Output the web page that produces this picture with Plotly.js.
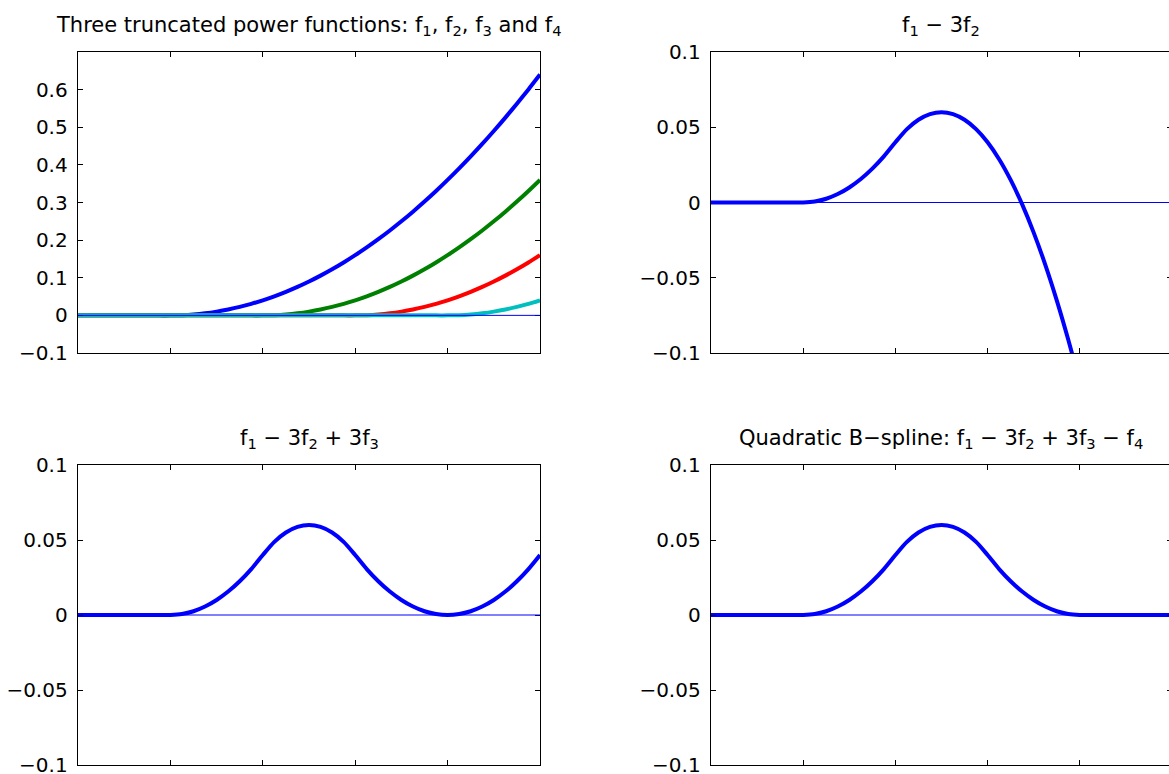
<!DOCTYPE html>
<html>
<head>
<meta charset="utf-8">
<script src="https://cdn.plot.ly/plotly-3.0.1.min.js"></script>
<style>
html, body { margin: 0; padding: 0; overflow: hidden; background: #fff; }
#chart { width: 1180px; height: 774px; }
</style>
</head>
<body>
<div id="chart"></div>
<script>
// Sample points along x
const xs = [0, 0.125, 0.25, 0.375, 0.5, 0.625, 0.75, 0.875, 1, 1.125, 1.25, 1.375, 1.5, 1.625, 1.75, 1.875,
            2, 2.125, 2.25, 2.375, 2.5, 2.625, 2.75, 2.875, 3, 3.125, 3.25, 3.375, 3.5, 3.625, 3.75, 3.875,
            4, 4.125, 4.25, 4.375, 4.5, 4.625, 4.75, 4.875, 5];
// Truncated power functions
const f1 = [0, 0, 0, 0, 0, 0, 0, 0, 0,
            0.000625, 0.0025, 0.005625, 0.01, 0.015625, 0.0225, 0.030625, 0.04,
            0.050625, 0.0625, 0.075625, 0.09, 0.105625, 0.1225, 0.140625, 0.16,
            0.180625, 0.2025, 0.225625, 0.25, 0.275625, 0.3025, 0.330625, 0.36,
            0.390625, 0.4225, 0.455625, 0.49, 0.525625, 0.5625, 0.600625, 0.64];
const f2 = [0, 0, 0, 0, 0, 0, 0, 0, 0, 0, 0, 0, 0, 0, 0, 0, 0,
            0.000625, 0.0025, 0.005625, 0.01, 0.015625, 0.0225, 0.030625, 0.04,
            0.050625, 0.0625, 0.075625, 0.09, 0.105625, 0.1225, 0.140625, 0.16,
            0.180625, 0.2025, 0.225625, 0.25, 0.275625, 0.3025, 0.330625, 0.36];
const f3 = [0, 0, 0, 0, 0, 0, 0, 0, 0, 0, 0, 0, 0, 0, 0, 0, 0, 0, 0, 0, 0, 0, 0, 0, 0,
            0.000625, 0.0025, 0.005625, 0.01, 0.015625, 0.0225, 0.030625, 0.04,
            0.050625, 0.0625, 0.075625, 0.09, 0.105625, 0.1225, 0.140625, 0.16];
const f4 = [0, 0, 0, 0, 0, 0, 0, 0, 0, 0, 0, 0, 0, 0, 0, 0, 0, 0, 0, 0, 0, 0, 0, 0, 0, 0, 0, 0, 0, 0, 0, 0, 0,
            0.000625, 0.0025, 0.005625, 0.01, 0.015625, 0.0225, 0.030625, 0.04];

const xTicks = [0, 1, 2, 3, 4, 5];
const yTicksTop = [-0.1, 0, 0.1, 0.2, 0.3, 0.4, 0.5, 0.6];
const yTicksTopText = ['\u22120.1', '0', '0.1', '0.2', '0.3', '0.4', '0.5', '0.6'];
const yTicksSmall = [-0.1, -0.05, 0, 0.05, 0.1];
const yTicksSmallText = ['\u22120.1', '\u22120.05', '0', '0.05', '0.1'];

const titles = [
  'Three truncated power functions: f<sub>1</sub>, f<sub>2</sub>, f<sub>3</sub> and f<sub>4</sub>',
  'f<sub>1</sub> \u2212 3f<sub>2</sub>',
  'f<sub>1</sub> \u2212 3f<sub>2</sub> + 3f<sub>3</sub>',
  'Quadratic B\u2212spline: f<sub>1</sub> \u2212 3f<sub>2</sub> + 3f<sub>3</sub> \u2212 f<sub>4</sub>'
];

// Combinations named in the panel titles
const g2 = f1.map((v, i) => v - 3 * f2[i]);
const g3 = f1.map((v, i) => v - 3 * f2[i] + 3 * f3[i]);
const g4 = f1.map((v, i) => v - 3 * f2[i] + 3 * f3[i] - f4[i]);

const BLUE = '#0000ff', GREEN = '#008000', RED = '#ff0000', CYAN = '#00bfbf';
const W = 1180, H = 774;
const font = { family: 'DejaVu Sans, Liberation Sans, Arial, sans-serif', size: 20, color: '#000' };
const titleFont = { family: 'DejaVu Sans, Liberation Sans, Arial, sans-serif', size: 21, color: '#000' };

function line(y, color, xa, ya) {
  return { x: xs, y: y, xaxis: xa, yaxis: ya, mode: 'lines', type: 'scatter',
           line: { color: color, width: 4, simplify: false, shape: 'spline', smoothing: 0.8 },
           hoverinfo: 'skip', showlegend: false };
}

const traces = [
  line(f1, BLUE, 'x', 'y'),
  line(f2, GREEN, 'x', 'y'),
  line(f3, RED, 'x', 'y'),
  line(f4, CYAN, 'x', 'y'),
  line(g2, BLUE, 'x2', 'y2'),
  line(g3, BLUE, 'x3', 'y3'),
  line(g4, BLUE, 'x4', 'y4')
];

const dxL = [78 / W, 540 / W];
const dxR = [711 / W, 1172 / W];
const dyT = [1 - 353 / H, 1 - 52 / H];
const dyB = [1 - 765 / H, 1 - 465 / H];

function xax(domain, anchor) {
  return { domain: domain, anchor: anchor, range: [0, 5], tickmode: 'array', tickvals: xTicks,
           showticklabels: false, ticks: 'inside', ticklen: 5, tickcolor: '#000', tickwidth: 1,
           showline: true, linecolor: '#000', linewidth: 1.3, mirror: 'ticks',
           showgrid: false, zeroline: false, fixedrange: true };
}
function yax(domain, anchor, range, vals, text) {
  return { domain: domain, anchor: anchor, range: range, tickmode: 'array', tickvals: vals, ticktext: text,
           ticks: 'inside', ticklen: 5, tickcolor: '#000', tickwidth: 1, ticklabelstandoff: 5,
           ticklabeloverflow: 'allow',
           showline: true, linecolor: '#000', linewidth: 1.3, mirror: 'ticks',
           showgrid: false, zeroline: false, fixedrange: true, tickfont: font };
}

function zeroShape(xa, ya) {
  return { type: 'line', xref: xa + ' domain', yref: ya, x0: 0, x1: 1, y0: 0, y1: 0,
           line: { color: BLUE, width: 1 }, layer: 'above' };
}

function titleAnn(text, domX, topY) {
  return { text: text, xref: 'paper', yref: 'paper', x: (domX[0] + domX[1]) / 2, y: topY,
           xanchor: 'center', yanchor: 'bottom', yshift: 11, showarrow: false, font: titleFont };
}

const layout = {
  width: W, height: H,
  margin: { l: 0, r: 0, t: 0, b: 0 },
  paper_bgcolor: '#fff', plot_bgcolor: '#fff',
  font: font,
  showlegend: false,
  xaxis: xax(dxL, 'y'),
  yaxis: yax(dyT, 'x', [-0.1, 0.7], yTicksTop, yTicksTopText),
  xaxis2: xax(dxR, 'y2'),
  yaxis2: yax(dyT, 'x2', [-0.1, 0.1], yTicksSmall, yTicksSmallText),
  xaxis3: xax(dxL, 'y3'),
  yaxis3: yax(dyB, 'x3', [-0.1, 0.1], yTicksSmall, yTicksSmallText),
  xaxis4: xax(dxR, 'y4'),
  yaxis4: yax(dyB, 'x4', [-0.1, 0.1], yTicksSmall, yTicksSmallText),
  shapes: [zeroShape('x', 'y'), zeroShape('x2', 'y2'), zeroShape('x3', 'y3'), zeroShape('x4', 'y4')],
  annotations: [
    titleAnn(titles[0], dxL, dyT[1]),
    titleAnn(titles[1], dxR, dyT[1]),
    titleAnn(titles[2], dxL, dyB[1]),
    titleAnn(titles[3], dxR, dyB[1])
  ]
};

Plotly.newPlot('chart', traces, layout, { staticPlot: true, displayModeBar: false });
</script>
</body>
</html>
